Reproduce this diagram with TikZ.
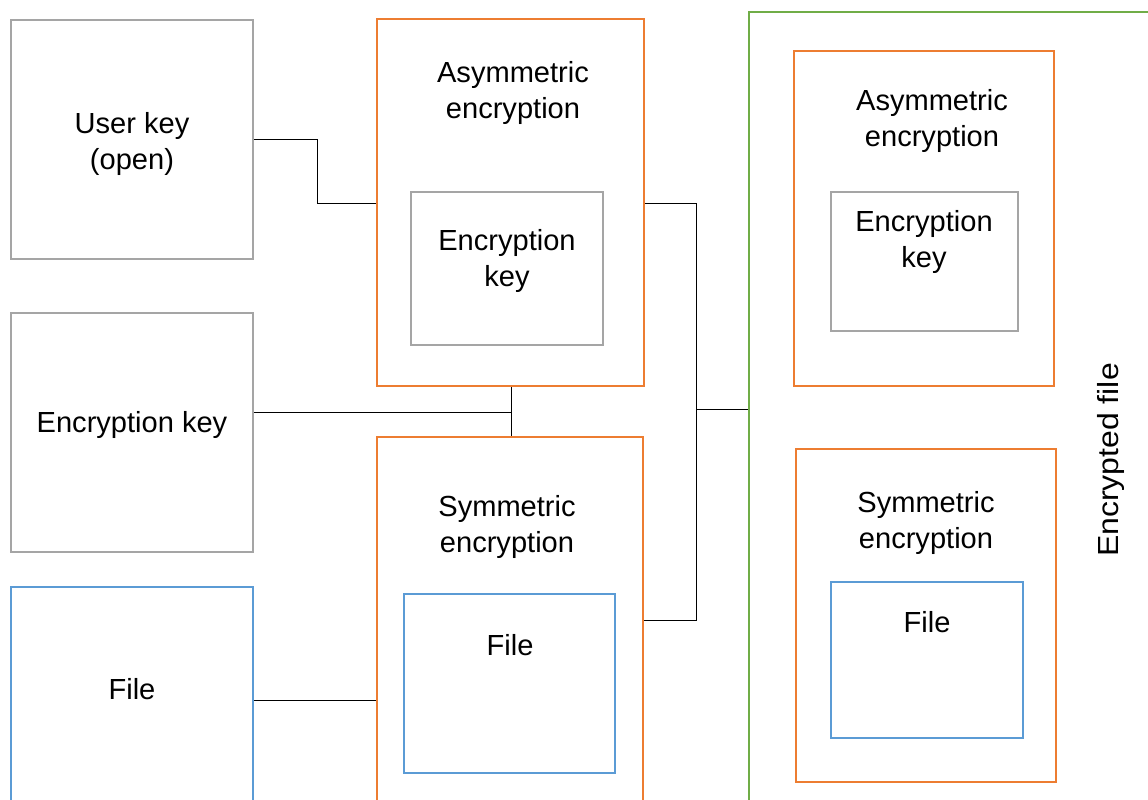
\documentclass[tikz,border=0pt]{standalone}
\usepackage{fontspec}
\setmainfont{Liberation Sans}
\usetikzlibrary{fit}
\definecolor{cgray}{HTML}{A5A5A5}
\definecolor{corange}{HTML}{ED7D31}
\definecolor{cblue}{HTML}{5B9BD5}
\definecolor{cgreen}{HTML}{70AD47}
\tikzset{
  boxbase/.style={draw, inner sep=0pt, line width=1.5pt, rectangle},
  graybox/.style={boxbase, draw=cgray},
  orangebox/.style={boxbase, draw=corange},
  bluebox/.style={boxbase, draw=cblue},
  greenbox/.style={boxbase, draw=cgreen},
  lbl/.style={align=center, inner sep=0pt, font=\fontsize{21.8pt}{27pt}\selectfont},
  wire/.style={draw=black, line width=0.75pt}
}
\begin{document}
\begin{tikzpicture}[x=0.75pt, y=-0.75pt]
\useasboundingbox (0,0) rectangle (1148,799);
\clip (0,0) rectangle (1148,799);
\fill[white] (0,0) rectangle (1148,799);

% left column
\node[graybox, fit={(11,20) (253,259)}] (user) {};
\node[lbl] (usert) at (132,144) {User key\\(open)};
\node[graybox, fit={(11,313) (253,552)}] (ekey) {};
\node[lbl] (ekeyt) at (132,425) {Encryption key};
\node[bluebox, fit={(11,587) (253,830)}] (file) {};
\node[lbl] (filet) at (132,689) {File};

% middle column
\node[orangebox, fit={(377,19) (644,386)}] (asym) {};
\node[lbl] (asymt) at (513,93) {Asymmetric\\encryption};
\node[graybox, fit={(411,192) (603,345)}] (akey) {};
\node[lbl] (akeyt) at (507,261) {Encryption\\key};
\node[orangebox, fit={(377,437) (643,830)}] (sym) {};
\node[lbl] (symt) at (507,527) {Symmetric\\encryption};
\node[bluebox, fit={(404,594) (615,773)}] (sfile) {};
\node[lbl] (sfilet) at (510,645) {File};

% right column
\node[greenbox, fit={(749,12) (1170,840)}] (green) {};
\node[orangebox, fit={(794,51) (1054,386)}] (rasym) {};
\node[lbl] (rasymt) at (932,121) {Asymmetric\\encryption};
\node[graybox, fit={(831,192) (1018,331)}] (rkey) {};
\node[lbl] (rkeyt) at (924,242) {Encryption\\key};
\node[orangebox, fit={(796,449) (1056,782)}] (rsym) {};
\node[lbl] (rsymt) at (926,523) {Symmetric\\encryption};
\node[bluebox, fit={(831,582) (1023,738)}] (rfile) {};
\node[lbl] (rfilet) at (927,622) {File};
\node[lbl, rotate=90, xscale=1.1] (enct) at (1111,460) {Encrypted file};

% connectors
\coordinate (j1) at (317,203);
\coordinate (c139) at (0,139);
\coordinate (bus) at (696,409);
\coordinate (c620) at (0,620);
\coordinate (c412) at (511,412);
\coordinate (c700) at (0,700);

\draw[wire] (user.east |- c139) -| (j1) -- (j1 -| asym.west);
\draw[wire] (asym.east |- j1) -| (bus) |- (sym.east |- c620);
\draw[wire] (bus) -- (bus -| green.west);
\draw[wire] (ekey.east |- c412) -- (c412);
\draw[wire] (asym.south -| c412) -- (sym.north -| c412);
\draw[wire] (file.east |- c700) -- (sym.west |- c700);
\end{tikzpicture}
\end{document}
